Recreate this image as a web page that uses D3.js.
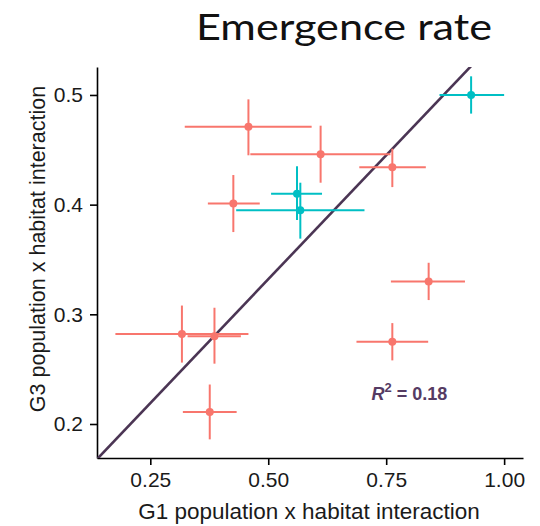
<!DOCTYPE html>
<head>
  <meta charset="utf-8">
  <script src="https://d3js.org/d3.v7.min.js"></script>
  <style>
    body { margin: 0; background: #fff; }
    .axis path, .axis line { stroke: #000; stroke-width: 1.6px; }
    .lab { font-family: "Liberation Sans", Arial, sans-serif; fill: #1a1a1a; }
  </style>
</head>
<body>
<script>
// G1 (x) and G3 (y) estimates with their intervals
var group = ["a","a","a","a","a","a","a","a","a","b","b","b"];
var xMid = [0.458, 0.611, 0.763, 0.426, 0.317, 0.386, 0.376, 0.840, 0.763, 0.930, 0.561, 0.568];
var xLo  = [0.323, 0.462, 0.693, 0.372, 0.176, 0.329, 0.319, 0.760, 0.687, 0.863, 0.506, 0.432];
var xHi  = [0.592, 0.759, 0.834, 0.482, 0.458, 0.442, 0.433, 0.917, 0.839, 1.000, 0.614, 0.704];
var yMid = [0.471, 0.446, 0.434, 0.401, 0.282, 0.280, 0.211, 0.330, 0.275, 0.500, 0.410, 0.395];
var yLo  = [0.445, 0.420, 0.416, 0.375, 0.256, 0.255, 0.186, 0.313, 0.258, 0.483, 0.386, 0.369];
var yHi  = [0.496, 0.472, 0.451, 0.427, 0.308, 0.306, 0.236, 0.347, 0.292, 0.517, 0.435, 0.420];

var xTicks = [0.25, 0.5, 0.75, 1.0];
var yTicks = [0.2, 0.3, 0.4, 0.5];
var fitIntercept = 0.106, fitSlope = 0.452;
var r2 = "0.18";

var colour = { a: "#F8766D", b: "#00BFC4" };

var margin = { top: 67, right: 17, bottom: 68, left: 97 };
var width = 540 - margin.left - margin.right;
var height = 526 - margin.top - margin.bottom;

var svgRoot = d3.select("body").append("svg")
    .attr("width", 540)
    .attr("height", 526);

svgRoot.append("text")
    .attr("x", 344).attr("y", 40)
    .attr("text-anchor", "middle")
    .attr("textLength", 296)
    .attr("lengthAdjust", "spacingAndGlyphs")
    .style("font", "37px Lato, 'Open Sans', sans-serif")
    .style("fill", "#111")
    .text("Emergence rate");

var svg = svgRoot.append("g")
    .attr("transform", "translate(" + margin.left + "," + margin.top + ")");

var x = d3.scaleLinear().domain([0.137, 1.04]).range([0, width]);
var y = d3.scaleLinear().domain([0.169, 0.5255]).range([height, 0]);

svg.append("clipPath").attr("id", "clip")
  .append("rect").attr("width", width).attr("height", height);

svg.append("g")
    .attr("class", "axis")
    .attr("transform", "translate(0," + height + ")")
    .call(d3.axisBottom(x).tickValues(xTicks).tickFormat(d3.format(".2f")).tickSize(7).tickPadding(7).tickSizeOuter(0));

svg.append("g")
    .attr("class", "axis")
    .call(d3.axisLeft(y).tickValues(yTicks).tickFormat(d3.format(".1f")).tickSize(7).tickPadding(7).tickSizeOuter(0));

svg.selectAll(".tick text")
    .style("font", "21px 'Liberation Sans', Arial, sans-serif")
    .style("fill", "#1a1a1a");

// regression line
svg.append("line")
    .attr("clip-path", "url(#clip)")
    .attr("x1", x(0.137)).attr("y1", y(fitIntercept + fitSlope * 0.137))
    .attr("x2", x(1.04)).attr("y2", y(fitIntercept + fitSlope * 1.04))
    .attr("stroke", "#4B3554")
    .attr("stroke-width", 2.6);

var idx = d3.range(xMid.length);

var pts = svg.selectAll(".pt").data(idx).enter().append("g").attr("class", "pt");

pts.append("line")
    .attr("x1", function(i) { return x(xLo[i]); })
    .attr("x2", function(i) { return x(xHi[i]); })
    .attr("y1", function(i) { return y(yMid[i]); })
    .attr("y2", function(i) { return y(yMid[i]); })
    .attr("stroke", function(i) { return colour[group[i]]; })
    .attr("stroke-width", 2);

pts.append("line")
    .attr("x1", function(i) { return x(xMid[i]); })
    .attr("x2", function(i) { return x(xMid[i]); })
    .attr("y1", function(i) { return y(yLo[i]); })
    .attr("y2", function(i) { return y(yHi[i]); })
    .attr("stroke", function(i) { return colour[group[i]]; })
    .attr("stroke-width", 2);

pts.append("circle")
    .attr("cx", function(i) { return x(xMid[i]); })
    .attr("cy", function(i) { return y(yMid[i]); })
    .attr("r", 4)
    .attr("fill", function(i) { return colour[group[i]]; });

// R squared label
var rt = svg.append("text")
    .attr("x", x(0.799)).attr("y", y(0.2215))
    .attr("text-anchor", "middle")
    .style("font", "bold 18px 'Liberation Sans', Arial, sans-serif")
    .style("fill", "#553B63");
rt.append("tspan").style("font-style", "italic").text("R");
rt.append("tspan").attr("dy", -8).style("font-size", "13px").text("2");
rt.append("tspan").attr("dy", 8).text(" = " + r2);

// axis titles
svgRoot.append("text")
    .attr("class", "lab")
    .style("font-size", "22.5px")
    .attr("x", 309).attr("y", 519)
    .attr("text-anchor", "middle")
    .text("G1 population x habitat interaction");

svgRoot.append("text")
    .attr("class", "lab")
    .style("font-size", "21.5px")
    .attr("transform", "translate(45,249) rotate(-90)")
    .attr("text-anchor", "middle")
    .text("G3 population x habitat interaction");
</script>
</body>
